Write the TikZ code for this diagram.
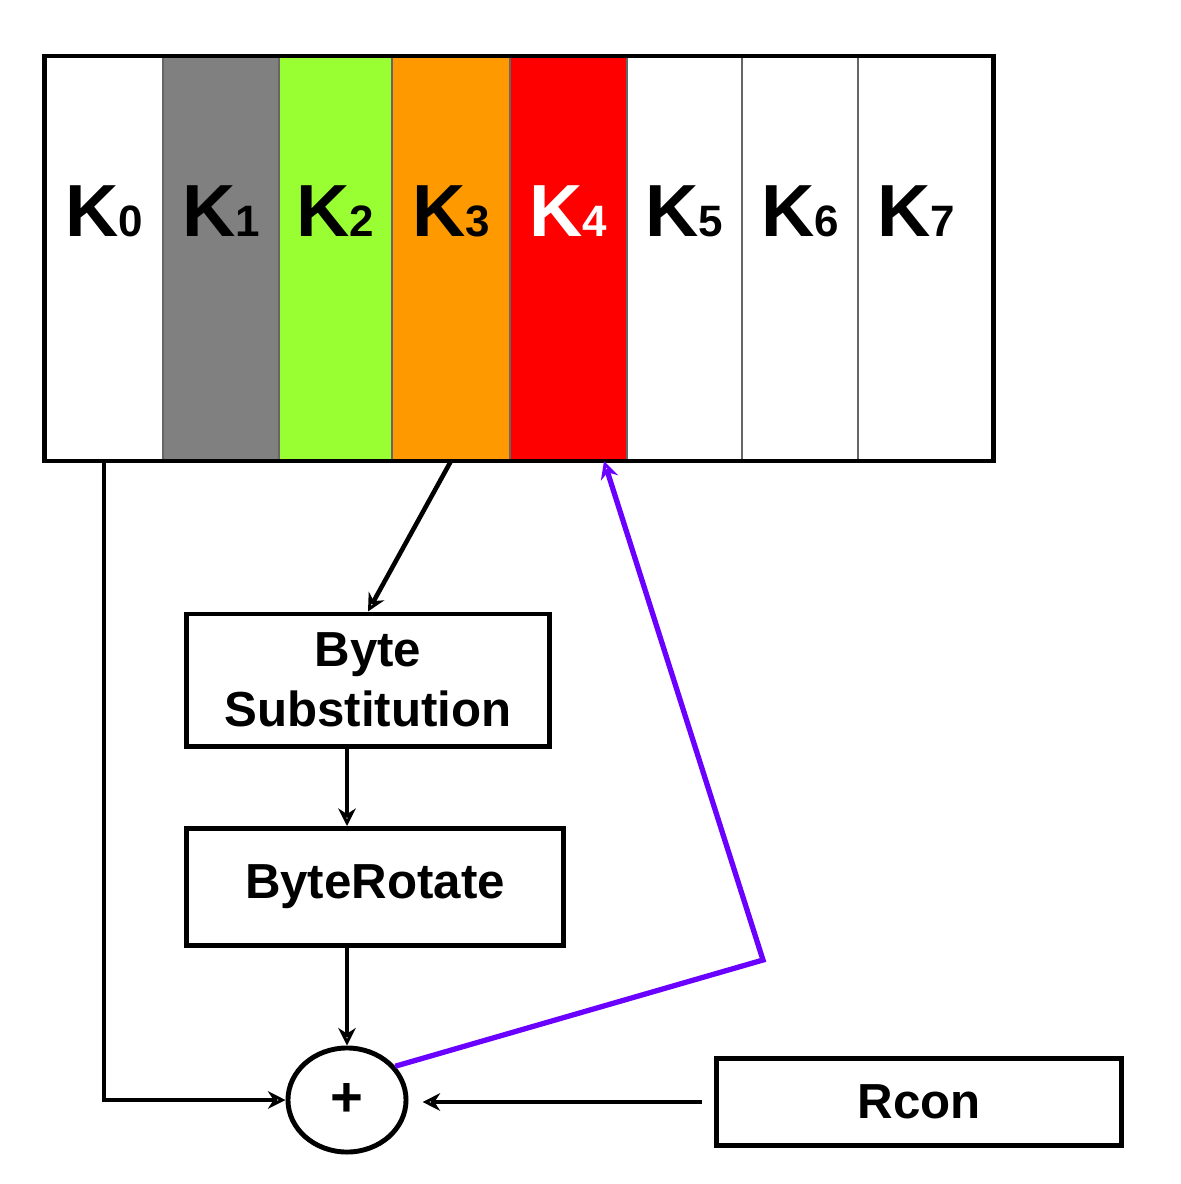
\documentclass[tikz,border=0pt]{standalone}
\usepackage{fontspec}
\setmainfont{Liberation Sans}
\usetikzlibrary{arrows.meta,shapes.geometric}
\definecolor{kgray}{HTML}{808080}
\definecolor{kgreen}{HTML}{99FF33}
\definecolor{korange}{HTML}{FF9900}
\definecolor{kred}{HTML}{FF0000}
\definecolor{kpurple}{HTML}{6A00FF}
\tikzset{
  cell/.style={draw=black!60,line width=0.5pt,inner sep=0pt,minimum height=4.03cm},
  klabel/.style={inner sep=0pt,anchor=base,font=\bfseries},
  stage/.style={draw,line width=1.4pt,align=center,inner sep=0pt,font=\fontsize{14}{17}\selectfont\bfseries},
  xorop/.style={draw,ellipse,line width=1.4pt,inner sep=0pt,minimum width=1.18cm,minimum height=1.04cm,font=\fontsize{16}{16}\selectfont\bfseries},
  flow/.style={-{Stealth[open,length=5pt,width=5pt]},line width=1.3pt},
}
\newcommand{\kname}[1]{{\fontsize{21}{21}\selectfont K}{\fontsize{12.5}{13}\selectfont #1}}

\begin{document}
\begin{tikzpicture}[x=0.01cm,y=-0.01cm]
  \useasboundingbox (0,0) rectangle (1181,1184);
  % key words K0 ... K7
  \foreach \i/\a/\b/\col in {0/45/163/white,1/163/279/kgray,2/279/392/kgreen,3/392/510/korange,
                             4/510/627/kred,5/627/742/white,6/742/858/white,7/858/993/white}
    \node[cell,fill=\col,minimum width={(\b-\a)*0.01cm}] (k\i) at ({(\a+\b)/2},258.5) {};
  \foreach \i/\tc/\dx in {0/black/0,1/black/0,2/black/0,3/black/0,4/white/0,5/black/0,6/black/0,7/black/-0.09}
    \node[klabel,text=\tc] (l\i) at ([xshift=\dx cm,yshift=0.215cm]k\i.center) {\kname{\i}};
  \draw[line width=1.4pt] (k0.north west) rectangle (k7.south east);
  % round function
  \node[stage,minimum width=3.63cm,minimum height=1.32cm] (bsub) at (368,680) {Byte\\Substitution};
  \node[stage,minimum width=3.77cm,minimum height=1.17cm] (brot) at (375,887) {ByteRotate};
  \node[xorop] (plus) at (347,1100) {+};
  \node[stage,minimum width=4.05cm,minimum height=0.87cm] (rcon) at (919,1102) {Rcon};
  \coordinate (bend) at (763,960);
  % connectors
  \draw[flow] (k3.south) -- (bsub.north);
  \draw[flow] (bsub.south -| plus) -- (brot.north -| plus);
  \draw[flow] (brot.south -| plus) -- (plus);
  \draw[flow] (k0.south) |- (plus.west);
  \draw[flow,shorten <=3.4pt,shorten >=4pt] (rcon.west) -- (rcon.west -| plus.east);
  \draw[flow,kpurple,line width=1.5pt] (plus.35) -- (bend) -- ([xshift=0.355cm]k4.south);
\end{tikzpicture}
\end{document}
